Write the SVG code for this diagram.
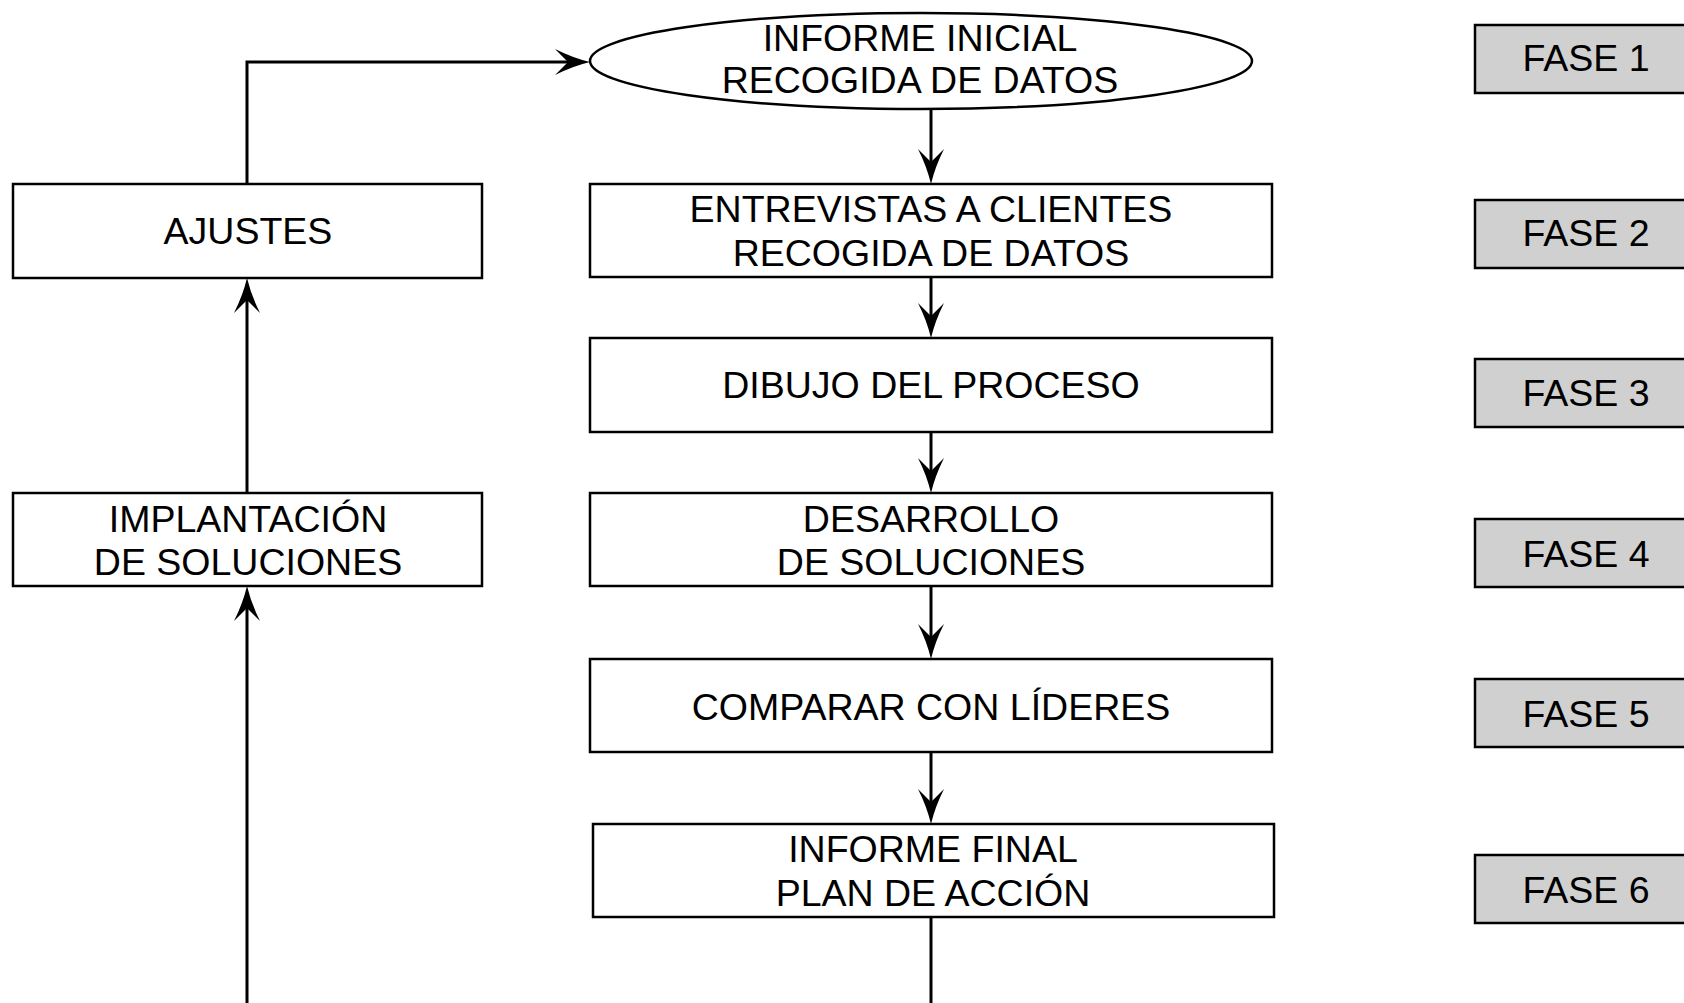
<svg xmlns="http://www.w3.org/2000/svg" width="1684" height="1003" viewBox="0 0 1684 1003">
<style>
.box{fill:#ffffff;stroke:#000000;stroke-width:2.5}
.fase{fill:#d0d0d0;stroke:#000000;stroke-width:2.5}
.t{font-family:"Liberation Sans",Arial,sans-serif;font-size:37.5px;fill:#000000;text-anchor:middle}
.c{fill:none;stroke:#000000;stroke-width:3}
</style>
<defs>
<marker id="arr" markerUnits="userSpaceOnUse" viewBox="-16 -15 40 30" refX="0" refY="0" markerWidth="40" markerHeight="30" orient="auto" overflow="visible">
<path d="M22,0 Q5,-4 -13,-13 L0,0 L-13,13 Q5,4 22,0 Z" fill="#000000"/>
</marker>
</defs>
<rect width="1684" height="1003" fill="#ffffff"/>
<g id="connectors">
<path class="c" d="M247,184 V62 H568" marker-end="url(#arr)"/>
<path class="c" d="M931,108 V162" marker-end="url(#arr)"/>
<path class="c" d="M931,277 V316" marker-end="url(#arr)"/>
<path class="c" d="M931,432 V471" marker-end="url(#arr)"/>
<path class="c" d="M931,586 V637" marker-end="url(#arr)"/>
<path class="c" d="M931,752 V802" marker-end="url(#arr)"/>
<path class="c" d="M931,917 V1003"/>
<path class="c" d="M247,1003 V608" marker-end="url(#arr)"/>
<path class="c" d="M247,493 V300" marker-end="url(#arr)"/>
</g>
<g id="n-informe-inicial">
<ellipse class="box" cx="921" cy="61" rx="331" ry="48"/>
<text class="t" x="920" y="51">INFORME INICIAL</text>
<text class="t" x="920" y="93">RECOGIDA DE DATOS</text>
</g>
<g id="n-entrevistas">
<rect class="box" x="590" y="184" width="682" height="93"/>
<text class="t" x="931" y="222">ENTREVISTAS A CLIENTES</text>
<text class="t" x="931" y="266">RECOGIDA DE DATOS</text>
</g>
<g id="n-dibujo">
<rect class="box" x="590" y="338" width="682" height="94"/>
<text class="t" x="931" y="398">DIBUJO DEL PROCESO</text>
</g>
<g id="n-desarrollo">
<rect class="box" x="590" y="493" width="682" height="93"/>
<text class="t" x="931" y="532">DESARROLLO</text>
<text class="t" x="931" y="575">DE SOLUCIONES</text>
</g>
<g id="n-comparar">
<rect class="box" x="590" y="659" width="682" height="93"/>
<text class="t" x="931" y="720">COMPARAR CON LÍDERES</text>
</g>
<g id="n-informe-final">
<rect class="box" x="593" y="824" width="681" height="93"/>
<text class="t" x="933" y="862">INFORME FINAL</text>
<text class="t" x="933" y="906">PLAN DE ACCIÓN</text>
</g>
<g id="n-ajustes">
<rect class="box" x="13" y="184" width="469" height="94"/>
<text class="t" x="248" y="244">AJUSTES</text>
</g>
<g id="n-implantacion">
<rect class="box" x="13" y="493" width="469" height="93"/>
<text class="t" x="248" y="532">IMPLANTACIÓN</text>
<text class="t" x="248" y="575">DE SOLUCIONES</text>
</g>
<g id="n-fase1">
<rect class="fase" x="1475" y="25" width="230" height="68"/>
<text class="t" x="1586" y="71">FASE 1</text>
</g>
<g id="n-fase2">
<rect class="fase" x="1475" y="200" width="230" height="68"/>
<text class="t" x="1586" y="246">FASE 2</text>
</g>
<g id="n-fase3">
<rect class="fase" x="1475" y="359" width="230" height="68"/>
<text class="t" x="1586" y="406">FASE 3</text>
</g>
<g id="n-fase4">
<rect class="fase" x="1475" y="519" width="230" height="68"/>
<text class="t" x="1586" y="567">FASE 4</text>
</g>
<g id="n-fase5">
<rect class="fase" x="1475" y="679" width="230" height="68"/>
<text class="t" x="1586" y="727">FASE 5</text>
</g>
<g id="n-fase6">
<rect class="fase" x="1475" y="855" width="230" height="68"/>
<text class="t" x="1586" y="903">FASE 6</text>
</g>
</svg>
